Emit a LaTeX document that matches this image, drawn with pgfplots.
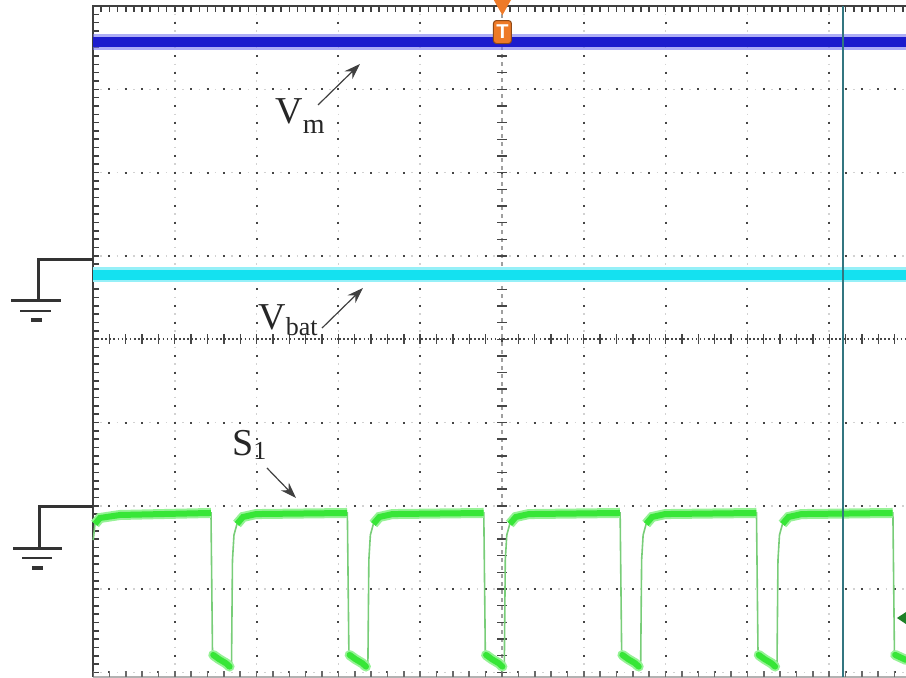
\documentclass[border=0pt]{standalone}
\usepackage{pgfplots}
\pgfplotsset{compat=1.18}
\usepackage{fontspec}
\setmainfont{Liberation Serif}
\setsansfont{Liberation Sans}
\usetikzlibrary{arrows.meta}
\definecolor{vmcore}{RGB}{28,28,205}
\definecolor{vmfringe}{RGB}{120,120,240}
\definecolor{vbcore}{RGB}{20,225,240}
\definecolor{vbfringe}{RGB}{150,240,248}
\definecolor{sgcore}{RGB}{55,230,55}
\definecolor{sgfringe}{RGB}{150,242,150}
\definecolor{sgedge}{RGB}{120,205,120}
\definecolor{trig}{RGB}{238,122,40}
\definecolor{cursor}{RGB}{50,118,128}
\definecolor{gridc}{RGB}{70,70,70}
\definecolor{mkgreen}{RGB}{30,130,40}
\begin{document}
\begin{tikzpicture}
\begin{axis}[
  scale only axis, width=406.5pt, height=335.5pt,
  xmin=0, xmax=9.94, ymin=-4.055, ymax=4,
  axis lines=none, clip=false,
  unbounded coords=jump,
]
% ---- grid ----
\pgfplotsinvokeforeach{1,2,3,4,6,7,8,9}{
  \draw[gray!35, line width=0.8pt, dash pattern=on 0.8pt off 3.365pt, dash phase=0.4pt] (axis cs:#1,4) -- (axis cs:#1,-4.055);
  \draw[gridc, line width=1pt, dash pattern=on 1pt off 7.33pt, dash phase=0.5pt] (axis cs:#1,4) -- (axis cs:#1,-4.055);
}
\pgfplotsinvokeforeach{3,2,1,-1,-2,-3,-4}{
  \draw[gray!35, line width=0.8pt, dash pattern=on 0.8pt off 3.29pt, dash phase=0.4pt] (axis cs:0,#1) -- (axis cs:9.94,#1);
  \draw[gridc, line width=1pt, dash pattern=on 1pt off 7.18pt, dash phase=0.5pt] (axis cs:0,#1) -- (axis cs:9.94,#1);
}
% center horizontal line with ticks
\draw[gridc, line width=0.8pt, dash pattern=on 0.8pt off 1.25pt] (axis cs:0,0) -- (axis cs:9.94,0);
\draw[gridc, line width=5pt, dash pattern=on 0.7pt off 7.48pt, dash phase=0.35pt] (axis cs:0,0) -- (axis cs:9.94,0);
% center vertical (trigger) line with ticks
\draw[gray!75, line width=0.9pt, dash pattern=on 2.2pt off 1.8pt] (axis cs:5,4) -- (axis cs:5,-4.055);
\draw[gridc, line width=5pt, dash pattern=on 0.7pt off 7.63pt, dash phase=0.35pt] (axis cs:5,4) -- (axis cs:5,-4.055);
% borders with ticks
\draw[black!75, line width=1.2pt] (axis cs:0,-4.055) -- (axis cs:0,4) -- (axis cs:9.94,4);
\draw[black!75, line width=3pt, dash pattern=on 0.8pt off 3.365pt, dash phase=0.4pt] ([xshift=1.5pt]axis cs:0,4) -- ([xshift=1.5pt]axis cs:0,-4.055);
\draw[black!75, line width=3pt, dash pattern=on 0.8pt off 3.29pt, dash phase=0.4pt] ([yshift=-1.5pt]axis cs:0,4) -- ([yshift=-1.5pt]axis cs:9.94,4);
\draw[gray!60, line width=1pt] (axis cs:0,-4.055) -- (axis cs:9.94,-4.055);
\draw[gridc!80, line width=3pt, dash pattern=on 0.8pt off 7.38pt, dash phase=0.4pt] ([yshift=1.5pt]axis cs:0,-4.055) -- ([yshift=1.5pt]axis cs:9.94,-4.055);

% ---- traces ----
% Vm
\addplot[vmfringe, line width=8pt, opacity=0.6, forget plot] coordinates {(0,3.568) (9.94,3.568)};
\addplot[vmcore, line width=5pt, forget plot] coordinates {(0,3.568) (9.94,3.568)};
% Vbat
\addplot[vbfringe, line width=7.5pt, forget plot] coordinates {(0,0.771) (9.94,0.771)};
\addplot[vbcore, line width=5pt, forget plot] coordinates {(0,0.771) (9.94,0.771)};
% S1 thin full waveform
\addplot[sgedge, line width=0.8pt, forget plot] coordinates {
(0.003,-2.411) (0.0244,-2.218) (0.0856,-2.146) (0.3301,-2.110)
(1.4300,-2.086) (1.4425,-2.086) (1.4608,-3.731) (1.4669,-3.755) (1.5403,-3.827) (1.6259,-3.899) (1.6748,-3.959) (1.6931,-3.947) (1.7053,-2.651) (1.7237,-2.350) (1.7603,-2.218) (1.8337,-2.134) (1.9926,-2.099)
(3.0978,-2.086) (3.110,-2.086) (3.1283,-3.731) (3.1344,-3.755) (3.2078,-3.827) (3.2934,-3.899) (3.3423,-3.959) (3.3606,-3.947) (3.3728,-2.651) (3.3912,-2.350) (3.4278,-2.218) (3.5012,-2.134) (3.6601,-2.099)
(4.7658,-2.086) (4.778,-2.086) (4.7963,-3.731) (4.8024,-3.755) (4.8758,-3.827) (4.9614,-3.899) (5.0103,-3.959) (5.0286,-3.947) (5.0408,-2.651) (5.0592,-2.350) (5.0958,-2.218) (5.1692,-2.134) (5.3281,-2.099)
(6.4328,-2.086) (6.445,-2.086) (6.4633,-3.731) (6.4694,-3.755) (6.5428,-3.827) (6.6284,-3.899) (6.6773,-3.959) (6.6956,-3.947) (6.7078,-2.651) (6.7262,-2.350) (6.7628,-2.218) (6.8362,-2.134) (6.9951,-2.099)
(8.0998,-2.086) (8.112,-2.086) (8.1303,-3.731) (8.1364,-3.755) (8.2098,-3.827) (8.2954,-3.899) (8.3443,-3.959) (8.3626,-3.947) (8.3748,-2.651) (8.3932,-2.350) (8.4298,-2.218) (8.5032,-2.134) (8.6621,-2.099)
(9.7678,-2.086) (9.780,-2.086) (9.7983,-3.731) (9.8044,-3.755) (9.94,-3.85)
};
% S1 thick high plateaus
\addplot[sgfringe, line width=5pt, forget plot] coordinates {
(0.0244,-2.218) (0.0856,-2.146) (0.3301,-2.110) (1.4300,-2.086) (1.4400,-2.086) (nan,nan)
(1.7603,-2.218) (1.8337,-2.134) (1.9926,-2.099) (3.0978,-2.086) (3.1075,-2.086) (nan,nan)
(3.4278,-2.218) (3.5012,-2.134) (3.6601,-2.099) (4.7658,-2.086) (4.7755,-2.086) (nan,nan)
(5.0958,-2.218) (5.1692,-2.134) (5.3281,-2.099) (6.4328,-2.086) (6.4425,-2.086) (nan,nan)
(6.7628,-2.218) (6.8362,-2.134) (6.9951,-2.099) (8.0998,-2.086) (8.1095,-2.086) (nan,nan)
(8.4298,-2.218) (8.5032,-2.134) (8.6621,-2.099) (9.7678,-2.086) (9.7775,-2.086)
};
\addplot[sgcore, line width=3pt, forget plot] coordinates {
(0.0244,-2.218) (0.0856,-2.146) (0.3301,-2.110) (1.4300,-2.086) (1.4400,-2.086) (nan,nan)
(1.7603,-2.218) (1.8337,-2.134) (1.9926,-2.099) (3.0978,-2.086) (3.1075,-2.086) (nan,nan)
(3.4278,-2.218) (3.5012,-2.134) (3.6601,-2.099) (4.7658,-2.086) (4.7755,-2.086) (nan,nan)
(5.0958,-2.218) (5.1692,-2.134) (5.3281,-2.099) (6.4328,-2.086) (6.4425,-2.086) (nan,nan)
(6.7628,-2.218) (6.8362,-2.134) (6.9951,-2.099) (8.0998,-2.086) (8.1095,-2.086) (nan,nan)
(8.4298,-2.218) (8.5032,-2.134) (8.6621,-2.099) (9.7678,-2.086) (9.7775,-2.086)
};
% S1 thick low parts
\addplot[sgfringe, line width=5pt, line cap=round, forget plot] coordinates {
(1.4700,-3.790) (1.5403,-3.840) (1.6259,-3.890) (1.6700,-3.930) (nan,nan)
(3.1375,-3.790) (3.2078,-3.840) (3.2934,-3.890) (3.3375,-3.930) (nan,nan)
(4.8055,-3.790) (4.8758,-3.840) (4.9614,-3.890) (5.0055,-3.930) (nan,nan)
(6.4725,-3.790) (6.5428,-3.840) (6.6284,-3.890) (6.6725,-3.930) (nan,nan)
(8.1395,-3.790) (8.2098,-3.840) (8.2954,-3.890) (8.3395,-3.930) (nan,nan)
(9.8075,-3.790) (9.94,-3.85)
};
\addplot[sgcore, line width=3pt, line cap=round, forget plot] coordinates {
(1.4700,-3.790) (1.5403,-3.840) (1.6259,-3.890) (1.6700,-3.930) (nan,nan)
(3.1375,-3.790) (3.2078,-3.840) (3.2934,-3.890) (3.3375,-3.930) (nan,nan)
(4.8055,-3.790) (4.8758,-3.840) (4.9614,-3.890) (5.0055,-3.930) (nan,nan)
(6.4725,-3.790) (6.5428,-3.840) (6.6284,-3.890) (6.6725,-3.930) (nan,nan)
(8.1395,-3.790) (8.2098,-3.840) (8.2954,-3.890) (8.3395,-3.930) (nan,nan)
(9.8075,-3.790) (9.94,-3.85)
};

% ---- cursor and markers ----
\draw[cursor, line width=1pt] (axis cs:9.17,4) -- (axis cs:9.17,-4.055);
\fill[mkgreen] (axis cs:9.829,-3.347) -- (axis cs:9.94,-3.275) -- (axis cs:9.94,-3.419) -- cycle;
\fill[trig] (axis cs:4.90,4.072) -- (axis cs:5.11,4.072) -- (axis cs:5.006,3.89) -- cycle;
\node[fill=trig, draw=trig!60!black, line width=0.5pt, rounded corners=1.5pt, minimum width=9pt, minimum height=11.5pt, inner sep=0pt, text=white, font=\sffamily\bfseries\fontsize{10}{10}\selectfont] at (axis cs:5.006,3.688) {T};

% ---- ground symbols ----
\draw[black!80, line width=1.5pt] (axis cs:0,0.963) -- (axis cs:-0.672,0.963) -- (axis cs:-0.672,0.470);
\draw[black!80, line width=1.5pt] (axis cs:-1.002,0.470) -- (axis cs:-0.391,0.470);
\draw[black!80, line width=1.3pt] (axis cs:-0.892,0.339) -- (axis cs:-0.513,0.339);
\draw[black!80, line width=1.8pt] (axis cs:-0.758,0.230) -- (axis cs:-0.623,0.230);
\draw[black!80, line width=1.5pt] (axis cs:0,-2.014) -- (axis cs:-0.660,-2.014) -- (axis cs:-0.660,-2.507);
\draw[black!80, line width=1.5pt] (axis cs:-0.978,-2.507) -- (axis cs:-0.379,-2.507);
\draw[black!80, line width=1.3pt] (axis cs:-0.868,-2.627) -- (axis cs:-0.501,-2.627);
\draw[black!80, line width=1.8pt] (axis cs:-0.746,-2.747) -- (axis cs:-0.611,-2.747);

% ---- labels ----
\node[anchor=base west, inner sep=0pt, text=black!85, font=\fontsize{19}{22}\selectfont] at (axis cs:2.225,2.595) {V\raisebox{-5pt}{\fontsize{14}{14}\selectfont m}};
\draw[black!75, line width=0.6pt, -{Stealth[length=8pt,width=5.5pt]}] (axis cs:2.751,2.812) -- (axis cs:3.264,3.304);
\node[anchor=base west, inner sep=0pt, text=black!85, font=\fontsize{19}{22}\selectfont] at (axis cs:2.017,0.122) {V\raisebox{-3pt}{\fontsize{13}{13}\selectfont bat}};
\draw[black!75, line width=0.6pt, -{Stealth[length=8pt,width=5.5pt]}] (axis cs:2.800,0.134) -- (axis cs:3.301,0.615);
\node[anchor=base west, inner sep=0pt, text=black!85, font=\fontsize{19}{22}\selectfont] at (axis cs:1.699,-1.390) {S\raisebox{-2pt}{\fontsize{13}{13}\selectfont 1}};
\draw[black!75, line width=0.6pt, -{Stealth[length=8pt,width=5.5pt]}] (axis cs:2.127,-1.546) -- (axis cs:2.482,-1.906);
\end{axis}
\pgfresetboundingbox
\path[use as bounding box] (-46.5pt,0pt) rectangle (406.5pt,338.5pt);
\end{tikzpicture}
\end{document}
